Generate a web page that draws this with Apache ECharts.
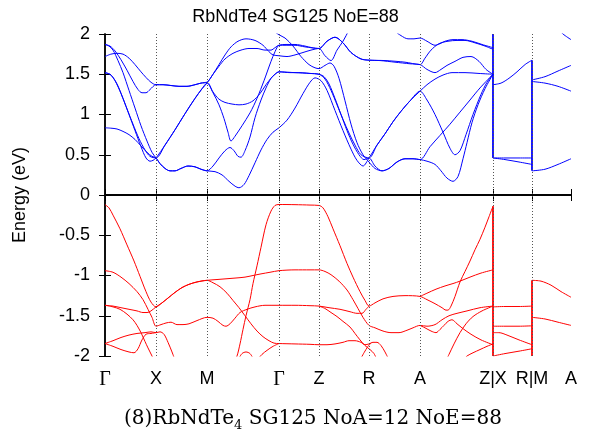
<!DOCTYPE html>
<html>
<head>
<meta charset="utf-8">
<script src="https://cdn.jsdelivr.net/npm/echarts@6/dist/echarts.min.js"></script>
<style>
html, body { margin: 0; padding: 0; background: #fff; }
#main { width: 591px; height: 436px; }
</style>
</head>
<body>
<div id="main"></div>
<script>
// high-symmetry points along the k-path
var kTicks = [0, 51, 102, 174, 214, 264, 315, 388, 427, 466];
var kLabels = ['Γ', 'X', 'M', 'Γ', 'Z', 'R', 'A', 'Z|X', 'R|M', 'A'];

// conduction bands, path Γ-X-M-Γ-Z-R-A-Z  ([k, E])
var condMain = [
    [[0,0.835],[6,0.83],[12,0.82],[18,0.79],[24,0.75],[30,0.69],[36,0.61],[42,0.53],[47,0.48],[51,0.46],[55,0.39],[60,0.33],[65,0.30],[70,0.30],[76,0.33],[83,0.36],[90,0.35],[96,0.32],[102,0.30],[110,0.29],[117,0.25],[124,0.17],[130,0.11],[134,0.09],[139,0.13],[144,0.24],[150,0.40],[156,0.56],[162,0.69],[168,0.78],[174,0.835],[182,0.93],[190,1.08],[198,1.26],[205,1.40],[210,1.455],[216,1.42],[222,1.30],[230,1.05],[238,0.80],[246,0.57],[252,0.43],[258,0.36],[264,0.46],[272,0.62],[280,0.76],[288,0.91],[296,1.04],[305,1.17],[315,1.29],[322,1.18],[330,1.0],[338,0.78],[345,0.58],[350,0.50],[355,0.55],[361,0.75],[368,1.0],[376,1.25],[382,1.4],[388,1.50]],
    [[0,1.52],[5,1.50],[10,1.42],[16,1.26],[22,1.07],[28,0.88],[34,0.70],[40,0.56],[45,0.48],[51,0.46],[60,0.62],[70,0.81],[80,1.01],[90,1.2],[97,1.32],[102,1.39],[108,1.27],[114,1.12],[119,0.95],[123,0.78],[126,0.67],[130,0.73],[137,0.86],[145,1.02],[152,1.2],[159,1.42],[166,1.66],[170,1.78],[174,1.86],[182,1.87],[190,1.87],[200,1.85],[207,1.83],[214,1.82],[222,1.91],[230,1.96],[238,1.89],[246,1.77],[256,1.69],[264,1.675],[275,1.67],[290,1.65],[305,1.63],[315,1.62],[322,1.56],[330,1.52],[336,1.56],[342,1.61],[350,1.66],[358,1.71],[366,1.72],[374,1.66],[381,1.56],[388,1.50]],
    [[0,1.52],[6,1.49],[12,1.38],[18,1.2],[24,1.0],[30,0.8],[36,0.6],[41,0.46],[45,0.42],[48,0.43],[51,0.46],[60,0.62],[70,0.81],[80,1.01],[90,1.2],[97,1.32],[102,1.39],[108,1.5],[114,1.62],[120,1.74],[126,1.84],[133,1.91],[141,1.94],[150,1.92],[158,1.86],[164,1.78],[168,1.74],[174,1.73],[182,1.72],[190,1.74],[198,1.77],[206,1.80],[214,1.82],[220,1.73],[226,1.67],[232,1.8],[238,1.91],[244,2.05],[252,2.25],[280,2.25],[290,2.04],[296,1.98],[303,1.94],[309,1.94],[315,1.95],[322,1.91],[330,1.86],[335,1.88],[340,1.91],[348,1.93],[357,1.93],[367,1.91],[377,1.87],[388,1.83]],
    [[0,1.72],[6,1.75],[12,1.76],[18,1.75],[24,1.7],[30,1.62],[36,1.53],[41,1.46],[46,1.40],[51,1.37],[58,1.37],[66,1.36],[74,1.35],[82,1.35],[90,1.37],[96,1.39],[102,1.40],[108,1.28],[114,1.19],[120,1.15],[127,1.13],[134,1.12],[141,1.13],[148,1.17],[155,1.26],[161,1.37],[166,1.45],[170,1.5],[174,1.53],[185,1.52],[195,1.52],[205,1.51],[214,1.50],[219,1.47],[224,1.38],[230,1.2],[236,1.0],[242,0.8],[248,0.63],[254,0.5],[259,0.44],[264,0.46],[270,0.36],[277,0.30],[284,0.33],[292,0.41],[300,0.45],[308,0.45],[315,0.44],[322,0.42],[330,0.38],[336,0.30],[342,0.21],[348,0.17],[353,0.23],[358,0.45],[362,0.65],[367,0.90],[373,1.12],[380,1.32],[388,1.50]],
    [[0,1.87],[4,1.85],[8,1.80],[13,1.67],[18,1.52],[24,1.3],[30,1.08],[36,0.86],[42,0.67],[47,0.53],[51,0.46],[55,0.39],[60,0.33],[65,0.30],[70,0.30],[76,0.33],[83,0.36],[90,0.35],[96,0.32],[102,0.30],[108,0.36],[114,0.46],[120,0.55],[125,0.59],[129,0.55],[133,0.48],[136,0.47],[140,0.55],[145,0.72],[150,0.96],[156,1.18],[161,1.33],[166,1.45],[170,1.50],[174,1.53],[190,1.52],[205,1.51],[214,1.50],[220,1.44],[226,1.3],[232,1.12],[238,0.94],[244,0.77],[250,0.62],[256,0.5],[264,0.46],[272,0.62],[280,0.76],[288,0.91],[296,1.04],[305,1.17],[315,1.29],[322,1.37],[330,1.44],[338,1.49],[347,1.52],[360,1.52],[374,1.51],[388,1.50]],
    [[0,1.87],[5,1.85],[10,1.79],[16,1.68],[22,1.55],[28,1.41],[33,1.31],[37,1.27],[41,1.27],[45,1.31],[51,1.37],[58,1.37],[66,1.36],[74,1.35],[82,1.35],[90,1.37],[96,1.39],[102,1.40],[108,1.50],[114,1.60],[120,1.69],[128,1.76],[136,1.80],[144,1.82],[152,1.82],[160,1.80],[166,1.80],[170,1.83],[174,1.86],[190,1.86],[200,1.84],[214,1.82],[222,1.91],[230,1.96],[238,1.89],[246,1.77],[256,1.69],[264,1.675],[280,1.67],[300,1.65],[315,1.62],[320,1.70],[326,1.80],[334,1.88],[343,1.91],[352,1.92],[360,1.92],[370,1.89],[380,1.85],[388,1.81]],
    [[160,2.2],[168,2.05],[174,1.99],[180,1.95],[188,1.85],[196,1.72],[204,1.62],[210,1.58],[214,1.57],[220,1.61],[225,1.64],[229,1.6],[234,1.45],[240,1.17],[246,0.88],[252,0.65],[258,0.5],[264,0.41],[270,0.33],[277,0.30],[284,0.33],[292,0.41],[300,0.45],[308,0.45],[315,0.44],[325,0.6],[335,0.74],[345,0.88],[355,1.03],[365,1.18],[375,1.33],[388,1.50]]
];
// conduction bands X-R and M-A
var condXR = [
    [[388,0.46],[400,0.46],[414,0.46],[427,0.46]],
    [[388,0.46],[400,0.44],[414,0.41],[427,0.38]],
    [[388,1.37],[396,1.39],[404,1.45],[412,1.53],[420,1.62],[427,1.675]]
];
var condMA = [
    [[427,0.30],[440,0.32],[453,0.38],[466,0.45]],
    [[427,1.41],[440,1.39],[453,1.35],[466,1.29]],
    [[427,1.43],[440,1.47],[453,1.54],[466,1.61]],
    [[450,2.1],[458,2.0],[466,1.93]]
];
// vertical jumps at the path breaks: [k, Elow, Ehigh]
var condJumps = [[388, 0.46, 2.0], [427, 0.30, 1.675]];

// valence bands, path Γ-X-M-Γ-Z-R-A-Z
var valMain = [
    [[0,-0.12],[4,-0.16],[8,-0.25],[15,-0.42],[22,-0.62],[29,-0.82],[35,-1.01],[41,-1.2],[46,-1.33],[51,-1.39],[57,-1.34],[63,-1.28],[70,-1.21],[77,-1.15],[84,-1.11],[92,-1.08],[102,-1.06],[112,-1.05],[122,-1.04],[132,-1.03],[140,-1.02],[148,-1.0],[156,-0.98],[165,-0.96],[174,-0.94],[190,-0.93],[205,-0.93],[214,-0.93],[220,-0.95],[226,-0.99],[234,-1.07],[242,-1.18],[248,-1.3],[253,-1.41],[258,-1.52],[264,-1.62],[270,-1.65],[278,-1.69],[286,-1.71],[294,-1.71],[302,-1.68],[308,-1.65],[315,-1.62],[322,-1.63],[330,-1.61],[337,-1.55],[344,-1.50],[352,-1.47],[362,-1.44],[375,-1.40],[388,-1.38]],
    [[128,-2.1],[132,-2.0],[135,-1.85],[138,-1.67],[141,-1.5],[145,-1.30],[148,-1.1],[152,-0.88],[156,-0.65],[161,-0.37],[166,-0.2],[170,-0.13],[174,-0.118],[190,-0.12],[205,-0.125],[214,-0.13],[218,-0.16],[223,-0.27],[228,-0.42],[235,-0.63],[242,-0.85],[248,-1.02],[255,-1.2],[260,-1.31],[264,-1.38],[270,-1.34],[278,-1.29],[288,-1.26],[300,-1.25],[315,-1.26],[322,-1.30],[330,-1.35],[337,-1.40],[341,-1.43],[343,-1.43],[346,-1.38],[350,-1.26],[355,-1.08],[360,-0.95],[365,-0.82],[370,-0.68],[375,-0.55],[380,-0.4],[384,-0.27],[388,-0.14]],
    [[0,-1.37],[8,-1.38],[16,-1.40],[24,-1.42],[32,-1.44],[38,-1.46],[42,-1.46],[46,-1.44],[51,-1.39],[57,-1.34],[63,-1.28],[70,-1.21],[77,-1.15],[84,-1.11],[92,-1.08],[102,-1.06],[108,-1.09],[115,-1.14],[122,-1.22],[128,-1.31],[134,-1.40],[140,-1.50],[146,-1.6],[152,-1.69],[158,-1.76],[164,-1.81],[169,-1.84],[174,-1.845],[190,-1.85],[205,-1.855],[214,-1.86],[222,-1.86],[230,-1.85],[238,-1.83],[244,-1.81],[250,-1.81],[256,-1.83],[260,-1.86],[264,-1.85],[268,-1.83],[272,-1.83],[276,-1.87],[280,-1.95],[284,-2.05]],
    [[0,-0.94],[8,-0.96],[16,-1.02],[24,-1.1],[32,-1.2],[38,-1.3],[43,-1.42],[47,-1.52],[51,-1.63],[56,-1.61],[61,-1.59],[66,-1.58],[72,-1.61],[78,-1.61],[84,-1.60],[92,-1.56],[102,-1.52],[108,-1.53],[113,-1.57],[118,-1.62],[121,-1.63],[125,-1.60],[130,-1.53],[135,-1.46],[142,-1.42],[150,-1.39],[160,-1.37],[174,-1.37],[190,-1.37],[205,-1.375],[214,-1.38],[224,-1.40],[235,-1.42],[245,-1.45],[252,-1.47],[257,-1.47],[261,-1.42],[264,-1.38]],
    [[0,-1.37],[8,-1.39],[15,-1.42],[22,-1.48],[28,-1.55],[32,-1.62],[36,-1.71],[40,-1.82],[43,-1.9],[47,-2.0],[50,-2.08]],
    [[0,-1.845],[8,-1.81],[16,-1.77],[24,-1.74],[32,-1.72],[40,-1.71],[46,-1.70],[51,-1.71],[55,-1.70],[59,-1.73],[63,-1.83],[67,-1.95],[70,-2.05]],
    [[0,-1.845],[8,-1.88],[16,-1.92],[24,-1.95],[29,-1.96],[33,-1.91],[37,-1.8],[41,-1.73],[46,-1.72],[51,-1.71]],
    [[133,-2.05],[137,-1.97],[141,-1.95],[145,-1.97],[149,-2.05]],
    [[152,-2.05],[157,-1.98],[162,-1.93],[168,-1.88],[174,-1.845]],
    [[214,-1.38],[220,-1.41],[226,-1.46],[232,-1.51],[238,-1.57],[245,-1.64],[250,-1.72],[255,-1.80],[260,-1.87],[265,-1.92],[269,-1.97],[272,-2.05]],
    [[255,-2.05],[259,-1.96],[263,-1.88],[266,-1.84]],
    [[315,-1.62],[320,-1.65],[326,-1.69],[331,-1.71],[335,-1.67],[339,-1.62],[343,-1.57],[347,-1.55],[352,-1.6],[358,-1.66],[366,-1.73],[376,-1.8],[388,-1.86]],
    [[340,-2.08],[344,-1.98],[349,-1.85],[355,-1.71],[361,-1.6],[368,-1.51],[377,-1.44],[388,-1.38]],
    [[358,-2.05],[362,-2.0],[368,-1.96],[375,-1.92],[382,-1.88],[388,-1.85]],
    [[315,-1.26],[322,-1.22],[331,-1.17],[340,-1.13],[348,-1.1],[355,-1.07],[365,-1.02],[376,-0.97],[388,-0.93]]
];
var valXR = [
    [[388,-1.39],[400,-1.385],[414,-1.385],[427,-1.38]],
    [[388,-1.63],[400,-1.63],[414,-1.63],[427,-1.625]],
    [[388,-1.71],[394,-1.71],[402,-1.74],[414,-1.80],[427,-1.86]],
    [[388,-2.0],[400,-1.97],[414,-1.94],[427,-1.91]]
];
var valMA = [
    [[427,-1.06],[436,-1.07],[446,-1.12],[456,-1.2],[466,-1.27]],
    [[427,-1.52],[440,-1.54],[453,-1.58],[466,-1.62]]
];
var valJumps = [[388, -2.0, -0.14], [427, -2.0, -1.06]];

var BLUE = '#0000ff', RED = '#ff0000';
var series = [];

function addBands(list, color) {
    list.forEach(function (pts) {
        series.push({
            type: 'line', data: pts, smooth: 0.3, symbol: 'none',
            lineStyle: { color: color, width: 1 }, silent: true, z: 3
        });
    });
}
function addJumps(list, color) {
    list.forEach(function (j) {
        series.push({
            type: 'line', data: [[j[0], j[1]], [j[0], j[2]]], symbol: 'none',
            lineStyle: { color: color, width: 1.8 }, silent: true, z: 3
        });
    });
}
addBands(condMain, BLUE); addBands(condXR, BLUE); addBands(condMA, BLUE);
addBands(valMain, RED); addBands(valXR, RED); addBands(valMA, RED);
addJumps(condJumps, BLUE); addJumps(valJumps, RED);

// dotted lines at the high-symmetry points and the Fermi level
series.push({
    type: 'line', data: [], silent: true,
    markLine: {
        silent: true, symbol: ['none', 'none'], label: { show: false },
        data: kTicks.slice(1, -1).map(function (k) {
            return { xAxis: k, lineStyle: { color: '#555', type: [1, 2], width: 1 } };
        }).concat([{ yAxis: 0, lineStyle: { color: '#000', type: 'solid', width: 1.5 } }])
    }
});

var sans = 'Liberation Sans, Arial, sans-serif';
var serif = 'Liberation Serif, Times New Roman, serif';
var capSerif = 'DejaVu Serif, serif';

var myChart = echarts.init(document.getElementById('main'));
myChart.setOption({
    animation: false,
    title: [
        {
            text: 'RbNdTe4 SG125 NoE=88', left: 'center', top: 3,
            textStyle: { fontFamily: sans, fontSize: 18, fontWeight: 'normal', color: '#000' }
        },
        {
            text: '{a|(8)RbNdTe}{b|4}{a| SG125 NoA=12 NoE=88}', left: 119, top: 401,
            textStyle: {
                fontWeight: 'normal',
                rich: {
                    a: { fontFamily: capSerif, fontSize: 20, fontWeight: 'normal', color: '#000', lineHeight: 26 },
                    b: { fontFamily: capSerif, fontSize: 13, fontWeight: 'normal', color: '#000', lineHeight: 26, verticalAlign: 'bottom', padding: [8, 0, 0, 0] }
                }
            }
        }
    ],
    grid: { left: 105, top: 34, width: 466, height: 322, show: false },
    xAxis: [
        {
            type: 'value', min: 0, max: 466, position: 'bottom',
            axisLine: { lineStyle: { color: '#000', width: 1.5 } },
            axisTick: { customValues: kTicks, inside: true, length: 6, lineStyle: { color: '#000' } },
            axisLabel: {
                customValues: kTicks, margin: 14, color: '#000', fontFamily: sans, fontSize: 18,
                formatter: function (v) {
                    var s = kLabels[kTicks.indexOf(v)];
                    return s === 'Γ' ? '{g|Γ}' : s;
                },
                rich: { g: { fontFamily: serif, fontSize: 20, color: '#000' } }
            },
            splitLine: { show: false }
        },
        {
            type: 'value', min: 0, max: 466, position: 'top',
            axisLine: { lineStyle: { color: '#000', width: 1.5 } },
            axisTick: { customValues: kTicks, inside: true, length: 6, lineStyle: { color: '#000' } },
            axisLabel: { show: false }, splitLine: { show: false }
        }
    ],
    yAxis: [
        {
            type: 'value', min: -2, max: 2, interval: 0.5, position: 'left',
            name: 'Energy (eV)', nameLocation: 'middle', nameGap: 76, nameRotate: 90,
            nameTextStyle: { fontFamily: sans, fontSize: 18, color: '#000' },
            axisLine: { show: true, lineStyle: { color: '#000', width: 1.5 } },
            axisTick: { inside: true, length: 6, lineStyle: { color: '#000' } },
            axisLabel: { margin: 15, color: '#000', fontFamily: sans, fontSize: 18 },
            splitLine: { show: false }
        },
        {
            type: 'value', min: -2, max: 2, interval: 0.5, position: 'right',
            axisLine: { show: true, lineStyle: { color: '#000', width: 1.5 } },
            axisTick: { inside: true, length: 6, lineStyle: { color: '#000' } },
            axisLabel: { show: false }, splitLine: { show: false }
        }
    ],
    series: series
});
</script>
</body>
</html>
